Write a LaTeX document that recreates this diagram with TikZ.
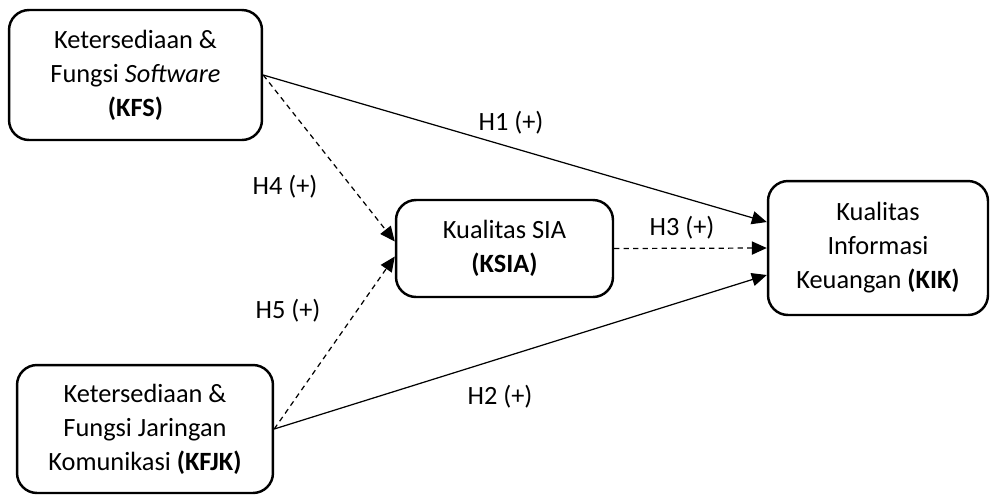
\documentclass[tikz,border=0pt]{standalone}
\usepackage{fontspec}
\setmainfont{Carlito}
\usetikzlibrary{arrows.meta,calc}

\begin{document}
\begin{tikzpicture}[x=0.02cm,y=-0.02cm,
   variabel/.style={draw,line width=1.4pt,rounded corners=0.4cm,align=center,
     inner sep=0pt,font=\fontsize{15}{19.3}\selectfont},
   pengaruh/.style={-{Triangle[length=8.5pt,width=7.5pt]},line width=0.7pt},
   moderasi/.style={pengaruh,dash pattern=on 3pt off 2.4pt},
   hipotesis/.style={font=\fontsize{15}{18}\selectfont}]

  \useasboundingbox (0,0) rectangle (990,495);

  \node[variabel,minimum width=5.06cm,minimum height=2.6cm] (kfs) at (135.5,75)
    {Ketersediaan \&\\Fungsi \textit{Software}\\\textbf{(KFS)}};
  \node[variabel,minimum width=4.34cm,minimum height=1.94cm] (ksia) at (504.5,248.5)
    {Kualitas SIA\\\textbf{(KSIA)}};
  \node[variabel,minimum width=4.4cm,minimum height=2.68cm] (kik) at (878,248)
    {Kualitas\\Informasi\\Keuangan \textbf{(KIK)}};
  \node[variabel,minimum width=5.12cm,minimum height=2.56cm] (kfjk) at (145,429)
    {Ketersediaan \&\\Fungsi Jaringan\\Komunikasi \textbf{(KFJK)}};

  \draw[pengaruh] (kfs.east) -- ($(kik.west)+(0,-26)$);
  \draw[pengaruh] (kfjk.east) -- ($(kik.west)+(0,27)$);
  \draw[moderasi] (ksia.east) -- (kik.west);
  \draw[moderasi] (kfs.east) -- ($(ksia.west)+(0,-7)$);
  \draw[moderasi] (kfjk.east) -- ($(ksia.west)+(0,8)$);

  \node[hipotesis] (h1) at (511,123) {H1 (+)};
  \node[hipotesis] (h2) at (500,397) {H2 (+)};
  \node[hipotesis] (h3) at (682,228) {H3 (+)};
  \node[hipotesis] (h4) at (285,187) {H4 (+)};
  \node[hipotesis] (h5) at (288,311) {H5 (+)};
\end{tikzpicture}
\end{document}
